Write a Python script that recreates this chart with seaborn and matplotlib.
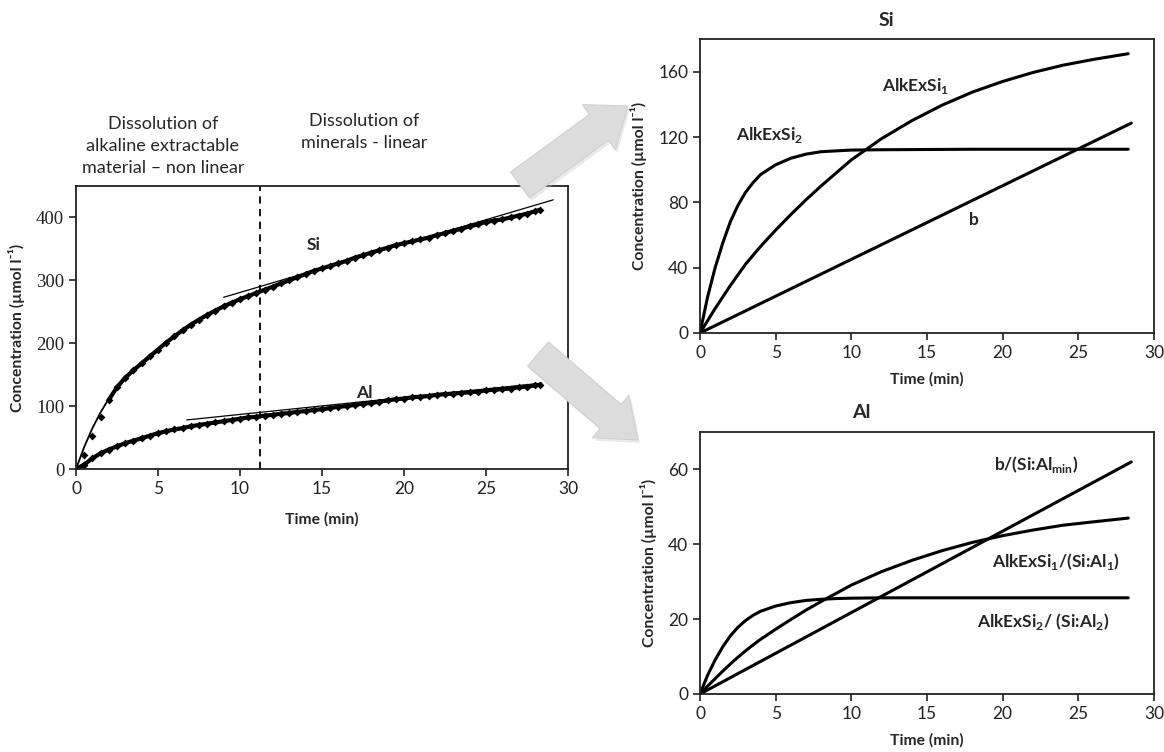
import pandas as pd
import matplotlib
matplotlib.use("Agg")
import matplotlib.pyplot as plt
import seaborn as sns
from matplotlib.patches import FancyArrow

# left panel: measured Si and Al (umol/l) vs time (min)
time_obs = [0, 0.5, 1, 1.5, 2, 2.5, 3, 3.5, 4, 4.5, 5, 5.5, 6, 6.5, 7, 7.5, 8, 8.5, 9, 9.5,
            10, 10.5, 11, 11.5, 12, 12.5, 13, 13.5, 14, 14.5, 15, 15.5, 16, 16.5, 17, 17.5,
            18, 18.5, 19, 19.5, 20, 20.5, 21, 21.5, 22, 22.5, 23, 23.5, 24, 24.5, 25, 25.5,
            26, 26.5, 27, 27.5, 28, 28.3]
si_obs = [0, 22, 52, 82, 110, 130, 145, 157, 168, 179, 190, 201, 211, 220.5, 229.5, 237.5, 245,
          252, 258.5, 264.5, 270, 275, 280, 285, 290, 295, 300, 305, 310, 315, 319, 323, 327,
          331, 336, 340, 344, 348, 352, 356, 359, 362, 365, 368, 372, 375, 379, 382, 386, 389,
          393, 395, 397, 400, 403, 406, 410, 412]
al_obs = [0, 7, 17, 25, 31, 36, 41, 45, 49, 53, 57, 60, 63, 65, 68, 70, 72, 74, 76, 78, 80, 82,
          83, 85, 86, 88, 89, 91, 92, 94, 95, 97, 99, 100, 102, 104, 105, 107, 109, 111, 112,
          114, 115, 116, 118, 119, 120, 121, 122, 123, 125, 126, 127, 128, 130, 131, 133, 134]
# non linear fit through Si (start sits a little above the points)
time_fit = [0, 0.5, 1, 1.5, 2, 2.5, 3, 4, 5, 6, 8, 10, 12, 14, 16, 18, 20, 22, 24, 26, 28.3]
si_fit = [0, 35, 65, 90, 112, 130, 145, 168, 190, 211, 245, 270, 290, 310, 327, 344, 359, 372,
          386, 397, 412]
# linear tangents
si_lin_t = [9.0, 29.1]
si_lin_c = [273, 428]
al_lin_t = [6.75, 28.4]
al_lin_c = [78, 136.5]
split_time = 11.2

# right panels: model components
t_model = [0, 0.5, 1, 1.5, 2, 2.5, 3, 3.5, 4, 5, 6, 7, 8, 9, 10, 12, 14, 16, 18, 20, 22, 24, 26, 28.3]
alkexsi1 = [0, 7.5, 15, 22, 29, 35.5, 42, 47.5, 53, 63, 72.5, 81.5, 90, 98, 106, 119, 130, 139.5,
            147.5, 154, 159.5, 164, 167.5, 171]
alkexsi2 = [0, 22, 40, 55, 68, 78, 86, 92, 97, 103, 107, 109.5, 111, 111.5, 112, 112.2, 112.3,
            112.4, 112.5, 112.5, 112.5, 112.5, 112.5, 112.5]
b_t = [0, 28.5]
b_si = [0, 128.5]
al1 = [0, 2.1, 4.1, 6.1, 8, 9.8, 11.5, 13.1, 14.6, 17.3, 19.9, 22.4, 24.7, 26.9, 29.1, 32.7,
       35.7, 38.3, 40.5, 42.3, 43.8, 45.1, 46, 47]
al2 = [0, 5, 9.1, 12.6, 15.5, 17.8, 19.6, 21, 22.1, 23.5, 24.4, 25, 25.3, 25.5, 25.6, 25.7, 25.7,
       25.7, 25.7, 25.7, 25.7, 25.7, 25.7, 25.7]
b_al = [0, 62]

sns.set_style("ticks")
plt.rcParams["font.family"] = ["Lato", "DejaVu Sans"]
plt.rcParams["mathtext.fontset"] = "custom"
plt.rcParams["mathtext.rm"] = "Lato"
plt.rcParams["mathtext.bf"] = "Lato:bold"
plt.rcParams["xtick.direction"] = "out"
plt.rcParams["ytick.direction"] = "out"

fig = plt.figure(figsize=(11.64, 7.52), dpi=100)
W, H = 1164, 752


def box(px_left, px_top, px_right, px_bottom):
    return [px_left / W, 1 - px_bottom / H, (px_right - px_left) / W, (px_bottom - px_top) / H]


def style_axes(ax, ylabel):
    for s in ax.spines.values():
        s.set_color("#222222")
        s.set_linewidth(1.3)
    ax.tick_params(length=5, width=1.2, colors="#222222", labelsize=12.5)
    ax.set_xlabel("Time (min)", fontsize=11.3, fontweight="bold", labelpad=8)
    ax.set_ylabel(ylabel, fontsize=11.3, fontweight="bold", labelpad=8)


ylab = "Concentration (µmol l⁻¹)"
ann = dict(fontsize=12.5, fontweight="bold", va="center")

# ---------- left panel
ax = fig.add_axes(box(76, 186, 568, 469))
obs = pd.DataFrame({"t": time_obs, "Si": si_obs, "Al": al_obs})
band = obs[obs["t"] >= 2]  # points are spread out at the very start
sns.lineplot(data=band, x="t", y="Si", ax=ax, color="black", lw=3, estimator=None)
sns.lineplot(data=obs, x="t", y="Al", ax=ax, color="black", lw=3, estimator=None)
sns.lineplot(x=time_fit, y=si_fit, ax=ax, color="black", lw=1.3, estimator=None)
sns.scatterplot(data=obs, x="t", y="Si", ax=ax, color="black", marker="D", s=16, linewidth=0)
sns.scatterplot(data=obs, x="t", y="Al", ax=ax, color="black", marker="D", s=16, linewidth=0)
sns.lineplot(x=si_lin_t, y=si_lin_c, ax=ax, color="black", lw=0.9)
sns.lineplot(x=al_lin_t, y=al_lin_c, ax=ax, color="black", lw=0.9)
ax.axvline(split_time, color="black", lw=1.3, ls=(0, (4, 3)))
ax.set_xlim(0, 30)
ax.set_ylim(0, 450)
ax.set_xticks([0, 5, 10, 15, 20, 25, 30])
ax.set_yticks([0, 100, 200, 300, 400])
style_axes(ax, ylab)
ax.xaxis.labelpad = 11
for lab in ax.get_yticklabels():
    lab.set_fontfamily("Liberation Serif")
    lab.set_fontsize(13.5)
ax.text(14.5, 356, "Si", ha="center", **ann)
ax.text(17.6, 121, "Al", ha="center", **ann)

fig.text(163 / W, 1 - 146 / H, "Dissolution of\nalkaline extractable\nmaterial – non linear",
         ha="center", va="center", fontsize=13, linespacing=1.45)
fig.text(364 / W, 1 - 132 / H, "Dissolution of\nminerals - linear",
         ha="center", va="center", fontsize=13, linespacing=1.45)

# ---------- top right: Si
ax1 = fig.add_axes(box(700, 39, 1154, 333))
sns.lineplot(x=t_model, y=alkexsi1, ax=ax1, color="black", lw=2.2, estimator=None)
sns.lineplot(x=t_model, y=alkexsi2, ax=ax1, color="black", lw=2.2, estimator=None)
sns.lineplot(x=b_t, y=b_si, ax=ax1, color="black", lw=2.2)
ax1.set_xlim(0, 30)
ax1.set_ylim(0, 180)
ax1.set_xticks([0, 5, 10, 15, 20, 25, 30])
ax1.set_yticks([0, 40, 80, 120, 160])
style_axes(ax1, ylab)
ax1.text(12.0, 151, r"AlkExSi$_\mathbf{1}$", **ann)
ax1.text(2.4, 121, r"AlkExSi$_\mathbf{2}$", **ann)
ax1.text(18.1, 69, "b", ha="center", **ann)
fig.text(886 / W, 1 - 21 / H, "Si", ha="center", va="center", fontsize=14, fontweight="bold")

# ---------- bottom right: Al
ax2 = fig.add_axes(box(700, 432, 1154, 694))
sns.lineplot(x=t_model, y=al1, ax=ax2, color="black", lw=2.2, estimator=None)
sns.lineplot(x=t_model, y=al2, ax=ax2, color="black", lw=2.2, estimator=None)
sns.lineplot(x=b_t, y=b_al, ax=ax2, color="black", lw=2.2)
ax2.set_xlim(0, 30)
ax2.set_ylim(0, 70)
ax2.set_xticks([0, 5, 10, 15, 20, 25, 30])
ax2.set_yticks([0, 20, 40, 60])
style_axes(ax2, ylab)
ax2.text(19.4, 61.2, r"b/(Si:Al$_\mathbf{min}$)", **ann)
ax2.text(19.3, 35.3, r"AlkExSi$_\mathbf{1}$/(Si:Al$_\mathbf{1}$)", **ann)
ax2.text(18.3, 19.3, r"AlkExSi$_\mathbf{2}$/ (Si:Al$_\mathbf{2}$)", **ann)
fig.text(861 / W, 1 - 413 / H, "Al", ha="center", va="center", fontsize=14, fontweight="bold")

# ---------- grey block arrows
over = fig.add_axes([0, 0, 1, 1], zorder=10)
over.set_xlim(0, W)
over.set_ylim(H, 0)
over.axis("off")
for (x0, y0, x1, y1) in [(520, 185, 628, 106), (538, 354, 638, 440)]:
    over.add_patch(FancyArrow(x0 + 2, y0 + 3, x1 - x0, y1 - y0, width=32, head_width=56,
                              head_length=36, length_includes_head=True,
                              color="#c4c4c4", alpha=0.35, lw=0))
    over.add_patch(FancyArrow(x0, y0, x1 - x0, y1 - y0, width=32, head_width=56,
                              head_length=36, length_includes_head=True,
                              facecolor="#dcdcdc", edgecolor="#d0d0d0", lw=0.8))

fig.savefig("out.png", dpi=100, facecolor="white")
